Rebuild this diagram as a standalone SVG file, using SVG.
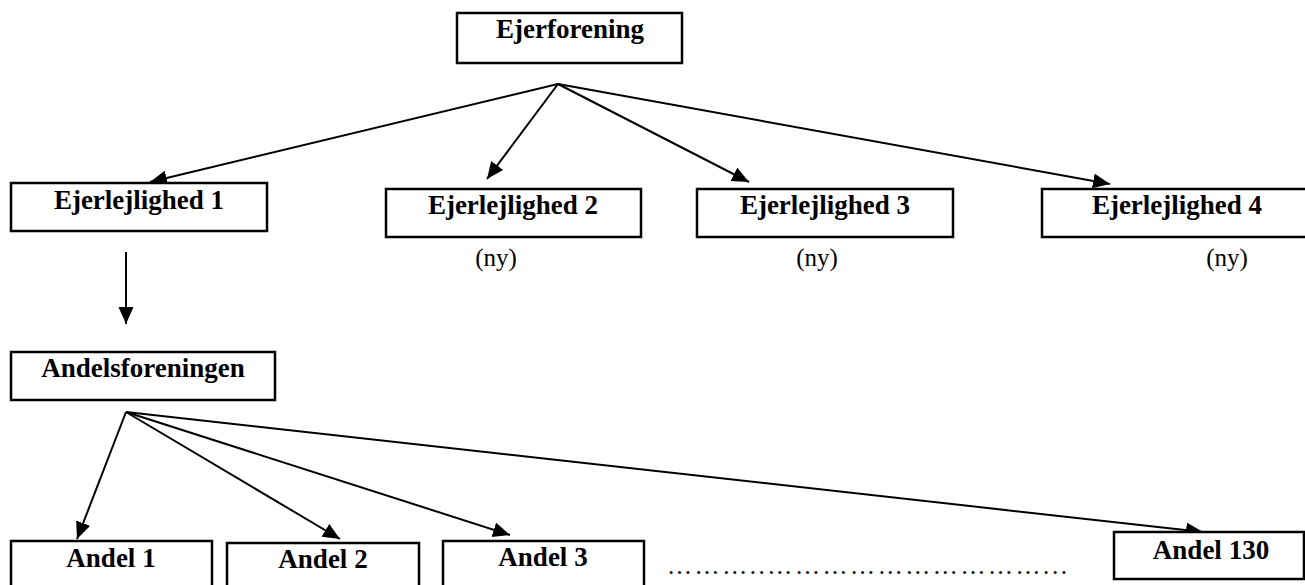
<svg xmlns="http://www.w3.org/2000/svg" width="1305" height="585" viewBox="0 0 1305 585">
<style>
.box{fill:#fff;stroke:#000;stroke-width:2.5}
.lbl{font-family:"Liberation Serif","Times New Roman",serif;font-weight:bold;font-size:27px;fill:#000;text-anchor:middle}
.note{font-family:"Liberation Serif","Times New Roman",serif;font-size:25px;fill:#000;text-anchor:middle}
.edge{stroke:#000;stroke-width:2;fill:none;marker-end:url(#ah)}
</style>
<defs>
<marker id="ah" markerUnits="userSpaceOnUse" markerWidth="18" markerHeight="16" refX="17" refY="7.5" orient="auto">
<path d="M0,0 L17,7.5 L0,15 z" fill="#000"/>
</marker>
</defs>
<rect width="1305" height="585" fill="#fff"/>
<g id="connectors">
<line class="edge" x1="558" y1="84" x2="150" y2="182"/>
<line class="edge" x1="558" y1="84" x2="487" y2="179"/>
<line class="edge" x1="558" y1="84" x2="749" y2="182"/>
<line class="edge" x1="558" y1="84" x2="1110" y2="184"/>
<line class="edge" x1="126" y1="252" x2="126" y2="324"/>
<line class="edge" x1="126" y1="412" x2="77" y2="539"/>
<line class="edge" x1="126" y1="412" x2="340" y2="539"/>
<line class="edge" x1="126" y1="412" x2="510" y2="535"/>
<line class="edge" x1="126" y1="412" x2="1203" y2="532"/>
</g>
<g id="ejerforening">
<rect class="box" x="457" y="13" width="225" height="50"/>
<text class="lbl" x="570" y="38">Ejerforening</text>
</g>
<g id="ejerlejlighed1">
<rect class="box" x="11" y="183" width="256" height="48"/>
<text class="lbl" x="139" y="209">Ejerlejlighed 1</text>
</g>
<g id="ejerlejlighed2">
<rect class="box" x="386" y="189" width="255" height="48"/>
<text class="lbl" x="513" y="214">Ejerlejlighed 2</text>
<text class="note" x="496" y="266">(ny)</text>
</g>
<g id="ejerlejlighed3">
<rect class="box" x="697" y="189" width="256" height="48"/>
<text class="lbl" x="825" y="214">Ejerlejlighed 3</text>
<text class="note" x="817" y="266">(ny)</text>
</g>
<g id="ejerlejlighed4">
<rect class="box" x="1042" y="189" width="270" height="48"/>
<text class="lbl" x="1177" y="214">Ejerlejlighed 4</text>
<text class="note" x="1227" y="266">(ny)</text>
</g>
<g id="andelsforeningen">
<rect class="box" x="11" y="352" width="264" height="48"/>
<text class="lbl" x="143" y="377">Andelsforeningen</text>
</g>
<g id="andel1">
<rect class="box" x="11" y="541" width="201" height="60"/>
<text class="lbl" x="111" y="567">Andel 1</text>
</g>
<g id="andel2">
<rect class="box" x="227" y="543" width="192" height="60"/>
<text class="lbl" x="323" y="568">Andel 2</text>
</g>
<g id="andel3">
<rect class="box" x="443" y="541" width="201" height="60"/>
<text class="lbl" x="543" y="566">Andel 3</text>
</g>
<g id="ellipsis">
<text class="note" x="667" y="574" style="text-anchor:start" textLength="400" lengthAdjust="spacing">………..…………………………...</text>
</g>
<g id="andel130">
<rect class="box" x="1114" y="532" width="190" height="47"/>
<text class="lbl" x="1211" y="559">Andel 130</text>
</g>
</svg>
